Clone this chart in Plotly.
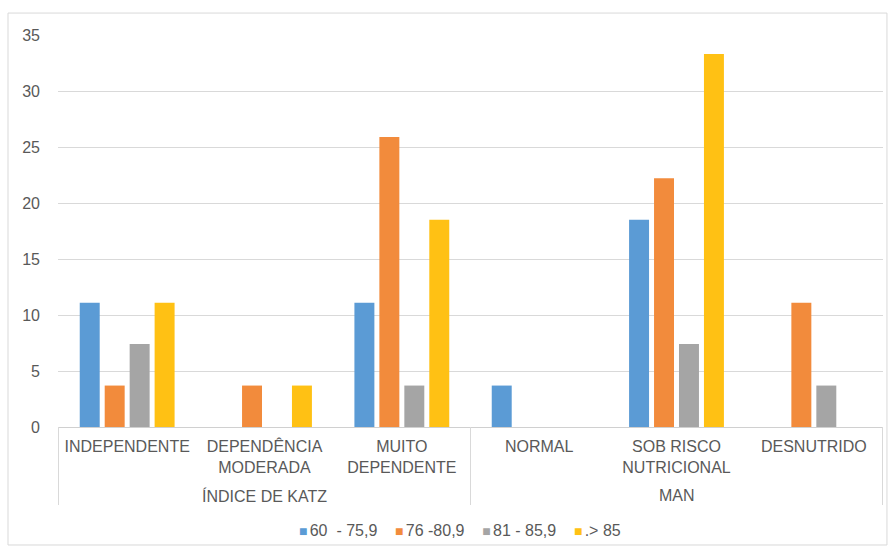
import plotly.graph_objects as go

group_names = ["ÍNDICE DE KATZ", "MAN"]
categories = ["INDEPENDENTE", "DEPENDÊNCIA<br>MODERADA", "MUITO<br>DEPENDENTE",
              "NORMAL", "SOB RISCO<br>NUTRICIONAL", "DESNUTRIDO"]

series_names = ["60  - 75,9", "76 -80,9", "81 - 85,9", ".> 85"]
s_60_75 = [11.1, 0, 11.1, 3.7, 18.5, 0]
s_76_80 = [3.7, 3.7, 25.9, 0, 22.2, 11.1]
s_81_85 = [7.4, 0, 3.7, 0, 7.4, 3.7]
s_85 = [11.1, 3.7, 18.5, 0, 33.3, 0]
colors = ["#5B9BD5", "#F28B3C", "#A5A5A5", "#FFC114"]

font_color = "#595959"
font_family = "Liberation Sans, Arial, sans-serif"

fig = go.Figure()
for name, vals, col in zip(series_names, [s_60_75, s_76_80, s_81_85, s_85], colors):
    fig.add_trace(go.Bar(x=categories, y=vals, name=name,
                         marker=dict(color=col, line=dict(width=0))))

# group labels under the category labels, and separators between the groups
n_per_group = len(categories) // len(group_names)
annotations = []
shapes = []
for gi, gname in enumerate(group_names):
    center = gi * n_per_group + (n_per_group - 1) / 2
    annotations.append(dict(x=center, xref="x", y=-0.176, yref="paper", text=gname,
                            showarrow=False, xanchor="center", yanchor="middle",
                            font=dict(size=16, color=font_color)))
for gi in range(len(group_names) + 1):
    xb = gi * n_per_group - 0.5
    shapes.append(dict(type="line", xref="x", yref="paper", x0=xb, x1=xb,
                       y0=0, y1=-0.199, line=dict(color="#D9D9D9", width=1)))

# legend row: coloured square + series name
items = []
for name, col in zip(series_names, colors):
    items.append("<span style='color:%s;font-size:14px'>■</span>"
                 "<span style='font-size:8px'>&nbsp;</span>%s"
                 % (col, name.replace(" ", "&nbsp;")))
legend_text = "&nbsp;&nbsp;&nbsp;&nbsp;".join(items)
annotations.append(dict(x=0.487, xref="paper", y=-0.263, yref="paper", text=legend_text,
                        showarrow=False, xanchor="center", yanchor="middle",
                        font=dict(size=16, color=font_color)))

# outer chart border
shapes.append(dict(type="rect", xref="paper", yref="paper",
                   x0=-0.0606, x1=1.0048, y0=-0.301, y1=1.056,
                   line=dict(color="#D9D9D9", width=1), fillcolor="rgba(0,0,0,0)",
                   layer="below"))

fig.update_layout(
    width=895, height=551,
    margin=dict(l=58, r=12, t=35, b=124),
    paper_bgcolor="white", plot_bgcolor="white",
    font=dict(family=font_family, size=16, color=font_color),
    barmode="group", bargap=0.273, bargroupgap=0.2,
    showlegend=False,
    xaxis=dict(type="category", showline=True, linecolor="#D0D0D0", linewidth=1,
               showgrid=False, ticks="", ticklabelstandoff=5,
               tickfont=dict(size=16, color=font_color)),
    yaxis=dict(range=[0, 35], dtick=5, showgrid=True, gridcolor="#D9D9D9", gridwidth=1,
               zeroline=False, showline=False, ticks="", ticklabelstandoff=17,
               tickfont=dict(size=16, color=font_color)),
    annotations=annotations,
    shapes=shapes,
)

fig.write_html("out.html")
